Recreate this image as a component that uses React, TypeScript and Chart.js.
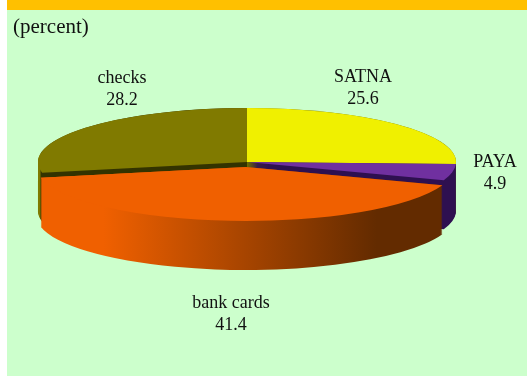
import React, { useEffect, useRef } from "react";
import { Chart, registerables } from "chart.js";

Chart.register(...registerables);

const categories = ["SATNA", "PAYA", "bank cards", "checks"];
const shares = [25.6, 4.9, 41.4, 28.2];
const faceColors = ["#F0F000", "#7030A0", "#F06000", "#807A00"];

// Slice pulled out of the disc, in screen pixels along its mid angle (before squashing).
const pullOut = [0, 0, 19.4, 0];

const RADIUS = 209;
const SQUASH = 54 / 209;
const DEPTH = 49;

// Rim shading: [x, colour] stops running left to right across the disc.
const rimStops: [number, string][][] = [
  [[0, "#6E6E00"], [527, "#6E6E00"]],
  [[0, "#2E1050"], [527, "#2E1050"]],
  [[105, "#F06000"], [378, "#632B00"]],
  [[40, "#807A00"], [41, "#333300"]],
];

const labelLines: [string, string, number, number][] = [
  ["SATNA", "25.6", 363, 82],
  ["PAYA", "4.9", 495, 167],
  ["bank cards", "41.4", 231, 308],
  ["checks", "28.2", 122, 83],
];

const pie3d = {
  id: "pie3d",
  beforeDatasetDraw(chart: any) {
    const ctx: CanvasRenderingContext2D = chart.ctx;
    const arcs = chart.getDatasetMeta(0).data;
    const cy = arcs[0].y;

    const squashAround = (dy: number) => {
      ctx.translate(0, cy + dy);
      ctx.scale(1, SQUASH);
      ctx.translate(0, -cy);
    };
    const along = (arc: any, i: number) => {
      const mid = (arc.startAngle + arc.endAngle) / 2;
      ctx.translate(Math.cos(mid) * pullOut[i], Math.sin(mid) * pullOut[i]);
    };

    // Rims are stacked back to front, then the top faces go over them.
    [3, 0, 1, 2].forEach((i) => {
      const arc = arcs[i];
      const stops = rimStops[i];
      const x0 = stops[0][0];
      const x1 = stops[stops.length - 1][0];
      const grad = ctx.createLinearGradient(x0, 0, x1, 0);
      stops.forEach(([x, c]) => grad.addColorStop((x - x0) / (x1 - x0), c));
      for (let d = DEPTH; d >= 0; d--) {
        ctx.save();
        squashAround(d);
        along(arc, i);
        ctx.fillStyle = grad;
        ctx.beginPath();
        ctx.moveTo(arc.x, arc.y);
        ctx.arc(arc.x, arc.y, arc.outerRadius, arc.startAngle, arc.endAngle);
        ctx.closePath();
        ctx.fill();
        ctx.restore();
      }
    });

    [3, 0, 1, 2].forEach((i) => {
      ctx.save();
      squashAround(0);
      along(arcs[i], i);
      arcs[i].draw(ctx);
      ctx.restore();
    });
    return false;
  },
  afterDraw(chart: any) {
    const ctx: CanvasRenderingContext2D = chart.ctx;
    ctx.save();
    ctx.fillStyle = "#111";
    ctx.textBaseline = "alphabetic";
    ctx.textAlign = "left";
    ctx.font = '21px "Liberation Serif"';
    ctx.fillText("(percent)", 13, 33);
    ctx.textAlign = "center";
    ctx.font = '18px "Liberation Serif"';
    labelLines.forEach(([name, value, x, y]) => {
      ctx.fillText(name, x, y);
      ctx.fillText(value, x, y + 22);
    });
    ctx.restore();
  },
};

export default function App() {
  const ref = useRef<HTMLCanvasElement>(null);
  useEffect(() => {
    const chart = new Chart(ref.current!, {
      type: "pie",
      data: {
        labels: categories,
        datasets: [
          {
            data: shares,
            backgroundColor: faceColors,
            borderWidth: 0,
            radius: RADIUS,
            clip: false,
          } as any,
        ],
      },
      options: {
        animation: false,
        responsive: false,
        events: [],
        layout: { padding: { left: 0, top: 0, right: 33, bottom: 52 } },
        plugins: { legend: { display: false }, tooltip: { enabled: false } },
      },
      plugins: [pie3d],
    });
    return () => chart.destroy();
  }, []);

  return (
    <div style={{ position: "fixed", left: 0, top: 0, width: 527, height: 376, background: "#fff", overflow: "hidden" }}>
      <div
        style={{
          position: "absolute",
          left: 7,
          top: 0,
          width: 520,
          height: 366,
          background: "#CCFFCC",
          borderTop: "10px solid #FFC000",
        }}
      />
      <canvas ref={ref} width={527} height={376} style={{ position: "absolute", left: 0, top: 0 }} />
    </div>
  );
}
